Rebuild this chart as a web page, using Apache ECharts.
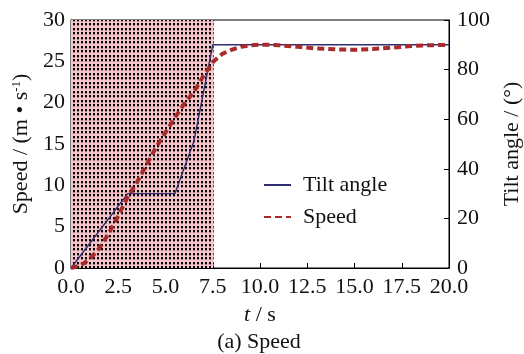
<!DOCTYPE html>
<html><head><meta charset="utf-8">
<script src="https://cdn.jsdelivr.net/npm/echarts@6/dist/echarts.min.js"></script>
<style>html,body{margin:0;padding:0;background:#fff}#c{width:524px;height:354px}</style>
</head><body><div id="c"></div>
<script>
// Data
const tiltTime = [0, 3.0, 5.5, 6.5, 7.5, 20];
const tiltAngle = [0, 30, 30, 51, 90, 90];
const speedTime = [0, 0.5, 1.0, 1.5, 2.0, 2.5, 3.0, 3.5, 4.0, 4.5, 5.0, 5.5, 6.0, 6.5, 7.0, 7.5, 8.0, 8.5, 9.0, 9.5, 10, 10.5, 11, 12, 13, 14, 15, 16, 17, 18, 19, 20];
const speedVal = [0, 0.3, 1.1, 2.4, 4.2, 6.3, 8.6, 10.4, 12.5, 14.6, 16.4, 18.2, 19.9, 21.3, 23.2, 24.9, 25.9, 26.4, 26.75, 26.95, 27.0, 27.0, 26.95, 26.75, 26.55, 26.45, 26.4, 26.5, 26.65, 26.85, 26.95, 27.0];
const shadeRange = [0, 7.55];

const FONT = "'Liberation Serif', 'Times New Roman', serif";
const FS = 22;
// dot pattern for shaded phase
const pat = document.createElement('canvas');
pat.width = 4; pat.height = 9;
const pc = pat.getContext('2d');
pc.fillStyle = '#f4c4c8'; pc.fillRect(0, 0, 4, 9);
pc.fillStyle = '#000';
pc.fillRect(1, 1, 2, 2);
pc.fillRect(1, 5, 2, 2);
pc.fillStyle = 'rgba(0,0,0,0.35)';
pc.fillRect(1, 3, 2, 1);
pc.fillRect(1, 7, 2, 1);

const chart = echarts.init(document.getElementById('c'), null, {renderer: 'canvas'});
const axisLabel = {fontFamily: FONT, fontSize: FS, color: '#111'};
chart.setOption({
  animation: false,
  textStyle: {fontFamily: FONT},
  grid: {left: 71, right: 75, top: 20, bottom: 86, containLabel: false, outerBoundsMode: 'none', show: true, borderColor: '#000', borderWidth: 1, backgroundColor: 'transparent'},
  legend: {
    orient: 'vertical', left: 258, top: 169, itemWidth: 27, itemHeight: 10, itemGap: 10,
    itemStyle: {opacity: 0},
    textStyle: {fontFamily: FONT, fontSize: FS, color: '#111', padding: [0, 0, 0, 7]},
    data: ['Tilt angle', 'Speed']
  },
  xAxis: {
    type: 'value', min: 0, max: 20, interval: 2.5,
    name: '{i|t} / s', nameLocation: 'middle', nameGap: 36,
    nameTextStyle: {fontFamily: FONT, fontSize: FS, color: '#111', rich: {i: {fontFamily: FONT, fontSize: FS, fontStyle: 'italic', color: '#111'}}},
    axisLine: {lineStyle: {color: '#000', width: 1}},
    axisTick: {inside: true, length: 5, lineStyle: {color: '#000'}},
    splitLine: {show: false},
    axisLabel: Object.assign({formatter: v => v.toFixed(1), margin: 8}, axisLabel)
  },
  yAxis: [{
    type: 'value', min: 0, max: 30, interval: 5,
    name: 'Speed / (m • s{sup|-1})', nameLocation: 'middle', nameGap: 35,
    nameTextStyle: {fontFamily: FONT, fontSize: FS, color: '#111', rich: {sup: {fontFamily: FONT, fontSize: 13, color: '#111', verticalAlign: 'top', padding: [0, 0, 9, 0]}}},
    axisLine: {show: true, lineStyle: {color: '#000'}},
    axisTick: {show: true, inside: true, length: 5, lineStyle: {color: '#000'}},
    splitLine: {show: false},
    axisLabel: Object.assign({margin: 6}, axisLabel)
  }, {
    type: 'value', min: 0, max: 100, interval: 20, position: 'right',
    name: 'Tilt angle / (°)', nameLocation: 'middle', nameGap: 47,
    nameTextStyle: {fontFamily: FONT, fontSize: FS, color: '#111'},
    axisLine: {show: true, lineStyle: {color: '#000'}},
    axisTick: {show: true, inside: true, length: 5, lineStyle: {color: '#000'}},
    splitLine: {show: false},
    axisLabel: Object.assign({margin: 8}, axisLabel)
  }],
  graphic: [{
    type: 'text', x: 259, y: 331,
    style: {text: '(a) Speed', fontFamily: FONT, fontSize: FS, fill: '#111', textAlign: 'center', textVerticalAlign: 'top'}
  }],
  series: [{
    name: 'Tilt angle', type: 'line', yAxisIndex: 1, symbol: 'none',
    data: tiltTime.map((t, i) => [t, tiltAngle[i]]),
    lineStyle: {color: '#2e2e72', width: 1.4},
    itemStyle: {color: '#2e2e72'},
    z: 3,
    markArea: {
      silent: true,
      itemStyle: {color: {image: pat, repeat: 'repeat'}, opacity: 1},
      data: [[{xAxis: shadeRange[0]}, {xAxis: shadeRange[1]}]]
    }
  }, {
    name: 'Speed', type: 'line', yAxisIndex: 0, symbol: 'none',
    data: speedTime.map((t, i) => [t, speedVal[i]]),
    lineStyle: {color: '#a82a2a', width: 4, type: [7, 4]},
    itemStyle: {color: '#a82a2a'},
    z: 4
  }]
});
</script></body></html>
